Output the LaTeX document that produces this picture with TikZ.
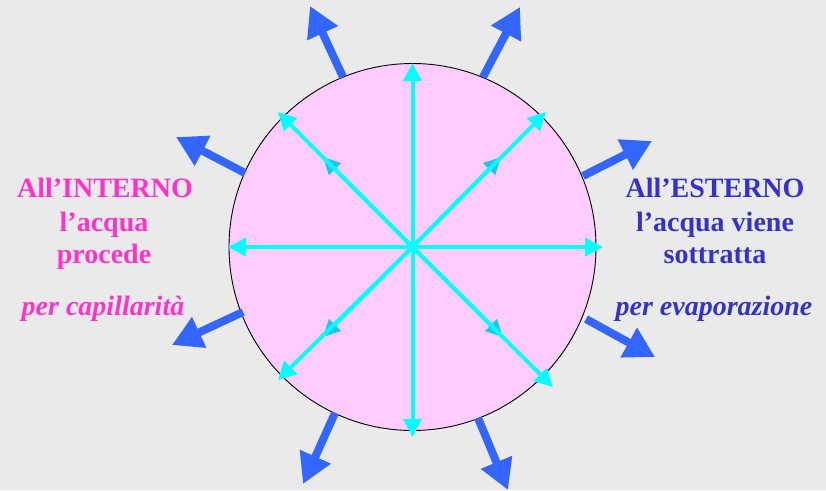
\documentclass[tikz,border=0pt]{standalone}
\usepackage{fontspec}
\setmainfont{Liberation Serif}
\usetikzlibrary{arrows.meta}
\definecolor{bg}{HTML}{EAEAEA}
\definecolor{disc}{HTML}{FFCCFF}
\definecolor{aqua}{HTML}{00FFFF}
\definecolor{midaqua}{HTML}{1EC3F2}
\definecolor{outblue}{HTML}{3366FF}
\definecolor{pinktext}{HTML}{FF33CC}
\definecolor{bluetext}{HTML}{3333CC}
\tikzset{
  inarrow/.style={draw=aqua, line width=4pt, -{Triangle[width=18pt,length=18pt,color=aqua]}},
  midarrow/.style={draw=aqua, line width=4pt, -{Triangle[width=16pt,length=17pt,color=midaqua]}},
  outarrow/.style={draw=outblue, line width=8pt, -{Triangle[width=32pt,length=30pt,color=outblue]}},
  lefttext/.style={text=pinktext, font=\fontsize{28}{32}\selectfont\bfseries, anchor=base},
  righttext/.style={text=bluetext, font=\fontsize{28}{32}\selectfont\bfseries, anchor=base}
}
\begin{document}
\begin{tikzpicture}[x=1pt,y=-1pt]
\fill[bg] (0,0) rectangle (826,490);
\useasboundingbox (0,0) rectangle (826,490);
% disc
\node[circle, draw=black, line width=0.9pt, fill=disc, minimum size=367pt, inner sep=0pt] (disc) at (412.5,247) {};
\coordinate (c) at (412.5,247);
% cyan tips
\coordinate (tN) at (412.5,63);
\coordinate (tS) at (412.5,437);
\coordinate (tW) at (228,247);
\coordinate (tE) at (603,247);
\coordinate (tNW) at (278,112);
\coordinate (tNE) at (546,112);
\coordinate (tSW) at (278,380);
\coordinate (tSE) at (553,387);
% mid heads
\coordinate (mNW) at (323,157);
\coordinate (mNE) at (501,157);
\coordinate (mSW) at (323,337);
\coordinate (mSE) at (503,337);
\draw[midarrow] (c) -- (mNW);
\draw[midarrow] (c) -- (mNE);
\draw[midarrow] (c) -- (mSW);
\draw[midarrow] (c) -- (mSE);
\foreach \t in {tN,tS,tW,tE,tNW,tNE,tSW,tSE} \draw[inarrow] (c) -- (\t);
% blue outward arrows
\coordinate (b1) at (343,77);  \coordinate (h1) at (310,6);
\coordinate (b2) at (483,77);  \coordinate (h2) at (520,7);
\coordinate (b3) at (245,173); \coordinate (h3) at (176,137);
\coordinate (b4) at (243,312); \coordinate (h4) at (172,345);
\coordinate (b5) at (583,176); \coordinate (h5) at (652,141);
\coordinate (b6) at (586,319); \coordinate (h6) at (655,357);
\coordinate (b7) at (335,413); \coordinate (h7) at (303,484);
\coordinate (b8) at (478,418); \coordinate (h8) at (508,490);
\foreach \i in {1,...,8} \draw[outarrow] (b\i) -- (h\i);
% texts
\node[lefttext] (l1) at (105,197) {All’INTERNO};
\node[lefttext] (l2) at (104,231) {l’acqua};
\node[lefttext] (l3) at (104,263) {procede};
\node[lefttext, font=\fontsize{28}{32}\selectfont\bfseries\itshape] (l4) at (103,315) {per capillarità};
\node[righttext] (r1) at (715,197) {All’ESTERNO};
\node[righttext] (r2) at (715,231) {l’acqua viene};
\node[righttext] (r3) at (715,263) {sottratta};
\node[righttext, font=\fontsize{28}{32}\selectfont\bfseries\itshape] (r4) at (714,315) {per evaporazione};
\end{tikzpicture}
\end{document}
